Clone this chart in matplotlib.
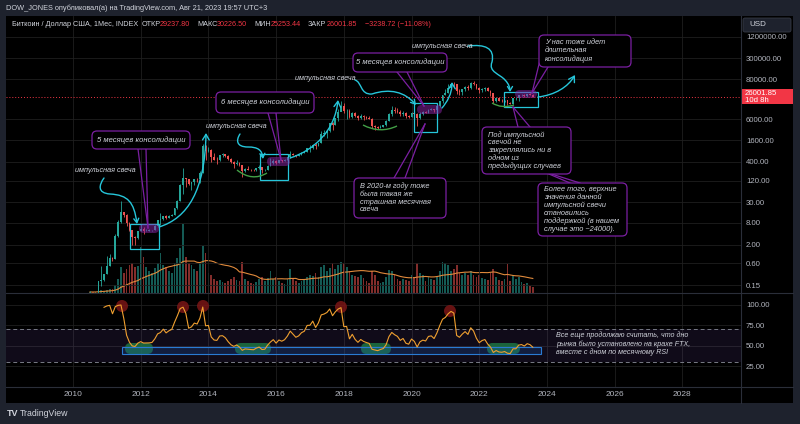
import numpy as np
import pandas as pd
import matplotlib
matplotlib.use('Agg')
import matplotlib.pyplot as plt
from matplotlib.patches import Rectangle, FancyBboxPatch, Circle, FancyArrowPatch, PathPatch
from matplotlib.path import Path
from matplotlib.ticker import NullLocator

plt.rcParams['font.family'] = ['Liberation Sans', 'DejaVu Sans']

# ---- данные: месячные свечи BTC, июль 2010 - август 2023 ----
start_month = 6          # месяцы от января 2010
first_open = 0.05

closes = [
    0.07, 0.06, 0.06, 0.19, 0.21, 0.30,
    0.52, 0.86, 0.78, 3.50, 8.74, 16.10, 13.35, 8.19, 5.14, 3.25, 2.97, 4.72,
    5.50, 4.88, 4.90, 4.95, 5.13, 6.69, 9.35, 10.15, 12.40, 11.20, 12.57, 13.51,
    20.41, 33.38, 93.03, 139.23, 128.80, 97.51, 106.21, 135.35, 133.00, 198.00, 1130.0, 805.0,
    830, 550, 458, 446, 628, 640, 586, 479, 387, 338, 378, 320,
    217, 254, 244, 236, 230, 263, 285, 230, 236, 314, 377, 430,
    368, 437, 416, 448, 531, 673, 624, 573, 609, 698, 742, 963,
    970, 1190, 1080, 1348, 2300, 2480, 2875, 4700, 4340, 6450, 9950, 13800,
    10200, 10300, 6930, 9240, 7500, 6390, 7730, 7030, 6630, 6300, 4020, 3740,
    3450, 3820, 4100, 5320, 8570, 10800, 10100, 9600, 8300, 9150, 7550, 7200,
    9350, 8550, 6420, 8630, 9450, 9140, 11350, 11650, 10780, 13800, 19700, 29000,
    33100, 45200, 58800, 57700, 37300, 35000, 41500, 47100, 43800, 61300, 57000, 46300,
    38500, 43200, 45500, 37700, 31800, 19900, 23300, 20050, 19430, 20500, 17170, 16540,
    23130, 23150, 28480, 29250, 27220, 30470, 29237.80, 26001.85,
]
highs = [
    0.10, 0.07, 0.07, 0.20, 0.50, 0.31,
    0.95, 1.10, 0.92, 3.90, 9.50, 31.90, 16.50, 14.00, 8.50, 5.10, 3.50, 4.90,
    7.38, 6.20, 5.40, 5.40, 5.22, 6.80, 9.50, 15.40, 12.80, 12.90, 12.90, 13.80,
    20.70, 33.80, 95.70, 266.0, 140.0, 130.0, 110.0, 135.5, 145.0, 215.0, 1242.0, 1160.0,
    1020, 900, 720, 540, 630, 680, 660, 600, 495, 415, 457, 385,
    320, 265, 300, 260, 248, 268, 318, 285, 250, 335, 500, 465,
    462, 446, 440, 468, 540, 780, 680, 620, 615, 740, 755, 980,
    1150, 1210, 1350, 1350, 2780, 3000, 2920, 4750, 5000, 6470, 11400, 19700,
    17200, 11800, 11700, 9770, 9990, 7780, 8480, 7760, 7400, 7660, 6570, 4300,
    4060, 4200, 4300, 5650, 9090, 13880, 13200, 12300, 10920, 10370, 9500, 7750,
    9580, 10500, 9190, 9470, 10060, 10400, 11440, 12480, 12050, 14100, 19900, 29300,
    41950, 58330, 61780, 64850, 59500, 41300, 42310, 50500, 52900, 66990, 69000, 59040,
    47990, 45800, 48190, 47450, 40000, 31950, 24650, 25200, 22800, 21100, 21480, 18400,
    23950, 25250, 29190, 31000, 29820, 31430, 31800, 30226.50,
]
lows = [
    0.05, 0.06, 0.06, 0.06, 0.14, 0.19,
    0.30, 0.50, 0.70, 0.77, 3.20, 8.00, 12.00, 6.50, 4.70, 2.00, 2.00, 2.80,
    4.80, 4.00, 4.70, 4.80, 4.90, 5.10, 6.50, 7.10, 9.90, 10.00, 10.70, 12.50,
    13.20, 19.00, 33.00, 50.00, 80.00, 88.00, 65.50, 92.50, 110.0, 104.0, 197.0, 455.0,
    740, 400, 440, 340, 428, 552, 560, 455, 365, 275, 320, 312,
    152, 212, 235, 215, 225, 220, 252, 198, 225, 235, 305, 355,
    355, 368, 400, 415, 440, 520, 602, 540, 595, 600, 685, 742,
    752, 910, 890, 1080, 1340, 2060, 1840, 2700, 2970, 4110, 5580, 10800,
    9000, 6000, 6550, 6420, 7040, 5780, 6080, 5880, 6130, 6150, 3500, 3120,
    3350, 3370, 3770, 4080, 5350, 7480, 9080, 9350, 7710, 7300, 6540, 6440,
    6870, 8450, 3850, 6150, 8130, 8900, 9000, 11100, 9880, 10400, 13240, 17570,
    28130, 32300, 45000, 47050, 30000, 28800, 29300, 37330, 39600, 43300, 53250, 42000,
    32950, 34320, 37200, 37600, 26700, 17600, 18780, 19540, 18150, 18200, 15480, 16300,
    16500, 21400, 19550, 26940, 25870, 24800, 28860, 25253.44,
]
# объём (относительные единицы)
volumes = [
    1, 1, 1, 2, 3, 2,
    3, 4, 4, 8, 14, 26, 20, 24, 28, 30, 26, 27,
    46, 36, 26, 22, 20, 25, 30, 40, 28, 26, 22, 20,
    30, 35, 45, 69, 36, 30, 28, 24, 22, 30, 47, 40,
    20, 18, 14, 12, 13, 11, 10, 12, 14, 16, 13, 12,
    31, 14, 12, 10, 9, 11, 14, 16, 12, 15, 22, 14,
    16, 12, 10, 9, 14, 24, 15, 12, 10, 12, 13, 16,
    18, 17, 20, 16, 26, 28, 22, 25, 30, 24, 28, 31,
    30, 26, 22, 18, 17, 16, 18, 15, 12, 10, 22, 18,
    12, 10, 11, 16, 23, 22, 18, 14, 12, 14, 13, 12,
    18, 16, 30, 20, 18, 12, 16, 14, 13, 17, 22, 31,
    30, 28, 22, 24, 28, 20, 18, 20, 18, 22, 18, 16,
    18, 15, 14, 13, 20, 24, 16, 13, 12, 14, 29, 12,
    18, 14, 16, 11, 9, 10, 7, 6,
]
year_labels = [2010, 2012, 2014, 2016, 2018, 2020, 2022, 2024, 2026, 2028]
price_ticks = [0.15, 0.60, 2.00, 8.00, 30.00, 120.00, 400.00, 1600.00, 6000.00,
               80000.00, 300000.00, 1200000.00]
rsi_ticks = [25, 50, 75, 100]
last_price = 26001.85

# цвета
UP, DOWN = '#26a69a', '#ef5350'
CYAN = '#26c6da'
PURPLE = '#7b1fa2'
TXT = '#d1d4dc'
AXT = '#b2b5be'
GRID = '#1f1f1f'
SEP = '#2a2e39'

W, H = 800, 424


def rect(x0, y0, x1, y1):
    return [x0 / W, 1 - y1 / H, (x1 - x0) / W, (y1 - y0) / H]


fig = plt.figure(figsize=(8, 4.24), dpi=100, facecolor='#1e222d')

bg = fig.add_axes([0, 0, 1, 1])
bg.set_xlim(0, W)
bg.set_ylim(H, 0)
bg.axis('off')
bg.add_patch(Rectangle((6, 16), 787, 387, color='black', lw=0))

vax = fig.add_axes(rect(6, 16, 741, 293))
ax = fig.add_axes(rect(6, 16, 741, 293), sharex=vax)
rax = fig.add_axes(rect(6, 293, 741, 387), sharex=vax)
ov = fig.add_axes([0, 0, 1, 1])
ov.set_zorder(10)
ov.set_xlim(0, W)
ov.set_ylim(H, 0)
ov.axis('off')

for a in (vax, ax, rax):
    a.set_facecolor('none')
    for s in a.spines.values():
        s.set_visible(False)

n = len(closes)
x = np.arange(n) + start_month
c = np.array(closes, dtype=float)
o = np.concatenate([[first_open], c[:-1]])
hi = np.array(highs, dtype=float)
lo = np.array(lows, dtype=float)
cols = np.where(c >= o, UP, DOWN)

# объём
vax.bar(x, volumes, width=0.62, color=cols, alpha=0.55, lw=0)
vol_ma = pd.Series(volumes, dtype=float).rolling(20, min_periods=1).mean()
vax.plot(x, vol_ma, color='#e08a3c', lw=0.8)
vax.set_ylim(0, 277)
vax.set_yticks([])
vax.tick_params(axis='x', length=0, labelbottom=False)

# свечи
ax.vlines(x, lo, hi, colors=cols, lw=0.6)
ax.bar(x, np.maximum(o, c) - np.minimum(o, c), bottom=np.minimum(o, c),
       width=0.62, color=cols, lw=0)
ax.set_yscale('log')
ax.set_ylim(10 ** -1.046, 10 ** 6.655)
ax.set_xlim(-23.75, 236.8)
ax.yaxis.tick_right()
ax.set_yticks(price_ticks)
ax.set_yticklabels(['%.2f' % v for v in price_ticks])
ax.yaxis.set_minor_locator(NullLocator())
ax.tick_params(axis='y', length=0, pad=3.6, labelsize=5.6, labelcolor=AXT)
ax.tick_params(axis='x', length=0, labelbottom=False)
ax.set_xticks([(y - 2010) * 12 for y in year_labels])
ax.grid(True, color=GRID, lw=0.6)
ax.set_axisbelow(True)
ax.axhline(last_price, color='#f23645', lw=0.7, ls=(0, (1, 2)))

# RSI
delta = pd.Series(c).diff().fillna(0)
ag = delta.clip(lower=0).ewm(alpha=1 / 14, adjust=False).mean()
al = (-delta.clip(upper=0)).ewm(alpha=1 / 14, adjust=False).mean()
rsi = 100 - 100 / (1 + ag / al)
rax.axhspan(30, 70, color='#7e57c2', alpha=0.13, lw=0)
rax.axhline(70, color='#787b86', lw=0.7, ls=(0, (4, 3)))
rax.axhline(30, color='#787b86', lw=0.7, ls=(0, (4, 3)))
rax.plot(x[5:], rsi[5:], color='#f0a030', lw=0.8, zorder=4)
rax.set_ylim(-0.5, 114.2)
rax.yaxis.tick_right()
rax.set_yticks(rsi_ticks)
rax.set_yticklabels(['%.2f' % v for v in rsi_ticks])
rax.tick_params(axis='y', length=0, pad=3.6, labelsize=5.6, labelcolor=AXT)
rax.set_xticks([(y - 2010) * 12 for y in year_labels])
rax.set_xticklabels([str(y) for y in year_labels])
rax.tick_params(axis='x', length=0, pad=3.2, labelsize=6, labelcolor=AXT)
rax.grid(True, color=GRID, lw=0.6)
rax.set_axisbelow(True)

# RSI: пометки
for (x0, x1) in [(125, 153), (235, 271), (361, 391), (487, 520)]:
    rax.add_patch(FancyBboxPatch((x0, 343), x1 - x0, 11, boxstyle='round,pad=0,rounding_size=5.5',
                                 fc='#1e7b45', ec='none', alpha=0.8, transform=ov.transData, zorder=2))
rax.add_patch(Rectangle((122, 347), 419, 7, fc=(0.1, 0.35, 0.7, 0.25), ec='#2a7bd4', lw=0.8,
                        transform=ov.transData, zorder=3))
for (cx, cy) in [(122, 306), (183, 307), (203, 306), (341, 307), (450, 311)]:
    rax.add_patch(Circle((cx, cy), 6, fc='#7a1616', ec='none', alpha=0.85,
                         transform=ov.transData, zorder=3, clip_on=False))
ov.text(556, 344, 'Все еще продолжаю считать, что дно\nрынка было установлено на крахе FTX,\n'
        'вместе с дном по месячному RSI', color=TXT, fontsize=5.1, style='italic',
        va='center', ha='left', linespacing=1.15)

# разделители панелей
ov.plot([6, 793], [293, 293], color=SEP, lw=0.8)
ov.plot([6, 793], [387, 387], color=SEP, lw=0.8)
ov.plot([741, 741], [16, 403], color=SEP, lw=0.8)


def bez(points):
    return Path(points, [Path.MOVETO] + [Path.CURVE4] * (len(points) - 1))


def cyan_arrow(points, head=3.0):
    p = FancyArrowPatch(path=bez(points), arrowstyle='->,head_length=%s,head_width=%s' % (head, head * 0.6),
                        color=CYAN, lw=1.0, shrinkA=0, shrinkB=0, mutation_scale=1)
    ov.add_patch(p)


def callout(x0, y0, x1, y1, text, base, tip, center=False):
    for bx in base:
        ov.plot([bx[0], tip[0]], [bx[1], tip[1]], color=PURPLE, lw=0.9, zorder=1)
    ov.add_patch(FancyBboxPatch((x0, y0), x1 - x0, y1 - y0, boxstyle='round,pad=0,rounding_size=5',
                                fc='black', ec=PURPLE, lw=0.9, zorder=2))
    if center:
        ov.text((x0 + x1) / 2, (y0 + y1) / 2, text, color=TXT, fontsize=5.5, style='italic',
                ha='center', va='center', zorder=3)
    else:
        ov.text(x0 + 6, (y0 + y1) / 2, text, color=TXT, fontsize=5.3, style='italic',
                ha='left', va='center', linespacing=1.12, zorder=3)


def highlight(x0, y0, x1, y1):
    ov.add_patch(FancyBboxPatch((x0, y0), x1 - x0, y1 - y0, boxstyle='round,pad=0,rounding_size=4.5',
                                fc='#8e24aa', ec='none', alpha=0.5))


def cyan_box(x0, y0, x1, y1):
    ov.add_patch(Rectangle((x0, y0), x1 - x0, y1 - y0, fc='none', ec=CYAN, lw=0.9))


def green_arc(p0, pc, p1):
    ov.add_patch(PathPatch(Path([p0, pc, p1], [Path.MOVETO, Path.CURVE3, Path.CURVE3]),
                           fc='none', ec='#43a047', lw=1.0))


def impulse(xt, yt):
    ov.text(xt, yt, 'импульсная свеча', color=TXT, fontsize=5.2, style='italic', ha='left', va='center')


# консолидации
for b in [(130, 224, 159, 249), (260, 154, 288, 180), (414, 103, 437, 132), (504, 92, 538, 107)]:
    cyan_box(*b)
for e in [(139, 224, 159, 233), (267, 157, 290, 166), (417, 105, 442, 114), (515, 90, 537, 98)]:
    highlight(*e)

green_arc((237, 170), (252, 182), (267, 173))
green_arc((363, 125), (380, 134), (397, 126))
green_arc((492, 103), (502, 109), (514, 105))

# импульсные свечи и стрелки
impulse(75, 170)
cyan_arrow([(104, 178), (99, 185), (97, 193), (110, 194), (128, 195), (134, 202), (137, 224)])
impulse(206, 127)
cyan_arrow([(240, 134), (236, 140), (236, 147), (248, 147), (258, 147), (262, 150), (263, 159)])
impulse(295, 79)
cyan_arrow([(355, 80), (362, 82), (360, 95), (372, 94), (390, 88), (405, 92), (416, 105)])
impulse(412, 47)
cyan_arrow([(468, 46), (485, 44), (495, 48), (492, 62), (488, 72), (500, 74), (505, 80),
            (509, 84), (510, 88), (510, 92)])

cyan_arrow([(159, 227), (188, 218), (205, 190), (206, 133)], head=4)
cyan_arrow([(290, 158), (315, 150), (335, 130), (338, 100)], head=4)
cyan_arrow([(442, 108), (447, 102), (452, 94), (452, 82)], head=4)
cyan_arrow([(538, 97), (555, 95), (568, 87), (575, 75)], head=4)

# выноски
callout(92, 131, 190, 149, '5 месяцев консолидации', [(138, 149), (146, 149)], (148, 228), center=True)
callout(216, 92, 314, 113, '6 месяцев консолидации', [(268, 113), (276, 113)], (281, 160), center=True)
callout(353, 53, 447, 72, '5 месяцев консолидации', [(397, 72), (407, 72)], (424, 106), center=True)
callout(539, 35, 631, 67, 'У нас тоже идет\nдлительная\nконсолидация', [(540, 60), (548, 67)], (532, 93))
callout(482, 127, 571, 174, 'Под импульсной\nсвечой не\nзакреплялись ни в\nодном из\nпредыдущих случаев',
        [(518, 127), (530, 127)], (513, 107))
callout(538, 183, 627, 236, 'Более того, верхние\nзначения данной\nимпульсной свечи\nстановились\n'
        'поддержкой (в нашем\nслучае это ~24000).', [(570, 183), (580, 183)], (542, 171))
callout(354, 178, 446, 218, 'В 2020-м году тоже\nбыла такая же\nстрашная месячная\nсвеча',
        [(394, 178), (405, 178)], (425, 124))

# метка текущей цены
py = H - ax.transData.transform((0, last_price))[1]
ov.add_patch(Rectangle((741, py - 7.5), 52, 15, color='#f23645', lw=0))
ov.text(745, py - 3, '%.2f' % last_price, color='white', fontsize=5.6, va='center', ha='left')
ov.text(745, py + 3.8, '10d 8h', color='white', fontsize=5.6, va='center', ha='left')

# кнопка USD
ov.add_patch(FancyBboxPatch((743, 18), 48, 14, boxstyle='round,pad=0,rounding_size=2',
                            fc='#1e222d', ec='#363a45', lw=0.6))
ov.text(749, 25, 'USD', color=TXT, fontsize=5.8, va='center', ha='left')

# шапка
ov.text(6, 8, 'DOW_JONES опубликовал(а) на TradingView.com, Авг 21, 2023 19:57 UTC+3',
        color=TXT, fontsize=5.3, va='center', ha='left')
legend = [(11.5, 'Биткоин / Доллар США, 1Мес, INDEX', TXT), (141.5, 'ОТКР', TXT), (160, '29237.80', '#f23645'),
          (197, 'МАКС', TXT), (217, '30226.50', '#f23645'), (254, 'МИН', TXT), (271, '25253.44', '#f23645'),
          (307.5, 'ЗАКР', TXT), (326.5, '26001.85', '#f23645'), (365, '−3238.72 (−11.08%)', '#f23645')]
for lx, lt, lc in legend:
    ov.text(lx, 25, lt, color=lc, fontsize=5.2, va='center', ha='left')

# логотип
ov.text(7, 413, 'TV', color=TXT, fontsize=6.5, fontweight='bold', va='center', ha='left')
ov.text(20, 413, 'TradingView', color=TXT, fontsize=6.3, va='center', ha='left')

fig.savefig('out.png', dpi=100, facecolor=fig.get_facecolor())
